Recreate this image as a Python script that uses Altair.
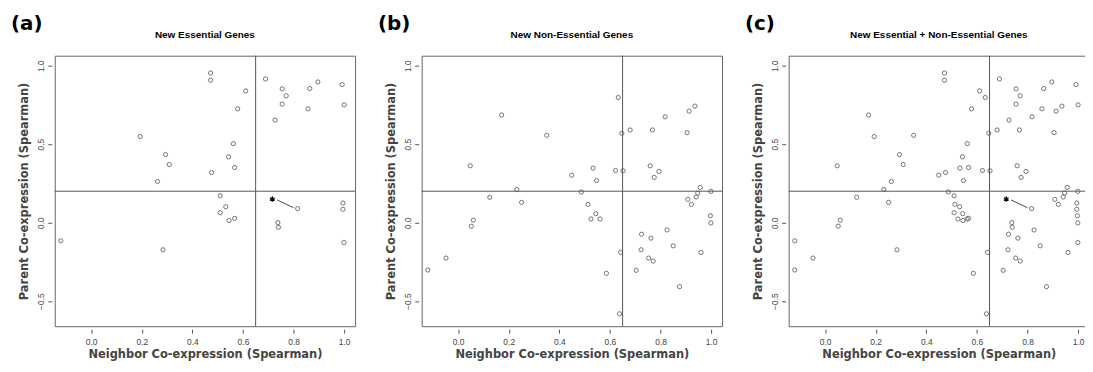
import altair as alt
import pandas as pd

# ---- data ----
ess_x = [-0.12, 0.194, 0.262, 0.294, 0.309, 0.284, 0.472, 0.472, 0.476, 0.611, 0.579, 0.562,
         0.543, 0.567, 0.510, 0.532, 0.510, 0.545, 0.567, 0.689, 0.755, 0.771, 0.755, 0.727,
         0.864, 0.896, 0.857, 0.992, 1.0, 0.816, 0.738, 0.740, 0.995, 0.995, 0.999]
ess_y = [-0.116, 0.548, 0.262, 0.433, 0.370, -0.173, 0.953, 0.907, 0.319, 0.839, 0.725, 0.503,
         0.419, 0.351, 0.171, 0.101, 0.063, 0.013, 0.027, 0.915, 0.852, 0.808, 0.755, 0.653,
         0.854, 0.896, 0.725, 0.879, 0.750, 0.089, 0.0, -0.03, 0.125, 0.085, -0.127]

non_x = [-0.120, -0.048, 0.048, 0.052, 0.060, 0.125, 0.172, 0.232, 0.251, 0.350, 0.449, 0.487,
         0.513, 0.533, 0.547, 0.544, 0.525, 0.561, 0.586, 0.622, 0.633, 0.647, 0.652, 0.642,
         0.638, 0.680, 0.759, 0.768, 0.775, 0.794, 0.818, 0.725, 0.762, 0.723, 0.753, 0.771,
         0.704, 0.826, 0.850, 0.875, 0.905, 0.913, 0.936, 0.908, 0.922, 0.941, 0.947, 0.957,
         0.999, 0.960, 0.997, 0.999]
non_y = [-0.302, -0.226, 0.362, -0.023, 0.015, 0.161, 0.685, 0.211, 0.129, 0.556, 0.302, 0.195,
         0.116, 0.347, 0.268, 0.057, 0.023, 0.023, -0.323, 0.332, 0.797, 0.569, 0.330, -0.190,
         -0.581, 0.590, 0.362, 0.590, 0.288, 0.326, 0.674, -0.074, -0.099, -0.173, -0.226, -0.245,
         -0.304, -0.047, -0.148, -0.408, 0.573, 0.710, 0.742, 0.148, 0.116, 0.163, 0.188, 0.224,
         0.199, -0.190, 0.044, -0.002]

star_x = [0.716]
star_y = [0.150]
link_x = [0.735]
link_y = [0.144]
link_x2 = [0.800]
link_y2 = [0.095]

x_cut = 0.65
y_cut = 0.2

W, H = 302, 272
X_MIN, X_MAX = -0.144, 1.043

panels = [
    ("(a)", "New Essential Genes", ess_x, ess_y, True),
    ("(b)", "New Non-Essential Genes", non_x, non_y, False),
    ("(c)", "New Essential + Non-Essential Genes", ess_x + non_x, ess_y + non_y, True),
]

GRAY = "#555555"

xscale = alt.Scale(domain=[X_MIN, X_MAX], nice=False, zero=False)
yscale = alt.Scale(domain=[-0.66, 1.063], nice=False, zero=False)

xaxis = alt.Axis(
    title="Neighbor Co-expression (Spearman)", values=[0, 0.2, 0.4, 0.6, 0.8, 1.0],
    format=".1f", domain=False, grid=False, offset=3, tickSize=4, tickColor=GRAY,
    labelFont="Liberation Sans", labelFontSize=8.5, labelColor="#444444", labelPadding=4,
    titleFont="DejaVu Sans", titleFontWeight="bold", titleFontSize=11.5, titleColor="#444444",
    titleX=W / 2, titleY=25, titleBaseline="middle", titleAlign="center",
)
yaxis = alt.Axis(
    title="Parent Co-expression (Spearman)", values=[-0.5, 0.0, 0.5, 1.0],
    format=".1f", domain=False, grid=False, offset=3, tickSize=4, tickColor=GRAY,
    labelFont="Liberation Sans", labelFontSize=8.5, labelColor="#444444", labelPadding=2,
    labelAngle=-90, labelAlign="center", labelBaseline="bottom",
    titleFont="DejaVu Sans", titleFontWeight="bold", titleFontSize=11.5, titleColor="#444444",
    titleX=-27, titleY=H / 2, titleAngle=-90, titleBaseline="middle", titleAlign="center",
)


def panel(tag, title, xs, ys, with_star):
    df = pd.DataFrame({"x": xs, "y": ys})
    pts = alt.Chart(df).mark_point(
        shape="circle", filled=False, size=18, stroke=GRAY, strokeWidth=0.8, opacity=1
    ).encode(x=alt.X("x:Q", scale=xscale, axis=xaxis), y=alt.Y("y:Q", scale=yscale, axis=yaxis))
    vline = alt.Chart(pd.DataFrame({"v": [x_cut]})).mark_rule(color=GRAY, strokeWidth=1).encode(
        x=alt.X("v:Q", scale=xscale))
    hline = alt.Chart(pd.DataFrame({"v": [y_cut]})).mark_rule(color=GRAY, strokeWidth=1).encode(
        y=alt.Y("v:Q", scale=yscale))
    tag_txt = alt.Chart().mark_text(
        text=tag, font="DejaVu Sans", fontWeight="bold", fontSize=20, align="left",
        baseline="middle", color="black"
    ).encode(x=alt.value(-44), y=alt.value(-32))
    ttl = alt.Chart().mark_text(
        text=title, font="Liberation Sans", fontWeight="bold", fontSize=10, align="center",
        baseline="middle", color="black"
    ).encode(x=alt.value(W / 2), y=alt.value(-21))
    layers = [vline, hline, pts]
    if with_star:
        link = alt.Chart(pd.DataFrame({"x": link_x, "y": link_y, "x2": link_x2, "y2": link_y2})).mark_rule(
            color="#333333", strokeWidth=0.9).encode(
            x=alt.X("x:Q", scale=xscale), y=alt.Y("y:Q", scale=yscale), x2="x2:Q", y2="y2:Q")
        star = alt.Chart(pd.DataFrame({"x": star_x, "y": star_y})).mark_point(
            shape="M0,-1L0,1M-0.87,-0.5L0.87,0.5M-0.87,0.5L0.87,-0.5", filled=False,
            size=30, stroke="black", strokeWidth=1.3, opacity=1
        ).encode(x=alt.X("x:Q", scale=xscale), y=alt.Y("y:Q", scale=yscale))
        layers += [link, star]
    layers += [tag_txt, ttl]
    return alt.layer(*layers).properties(width=W, height=H)


# the right-most panel is cut by the picture edge, as in the reference
chart = alt.hconcat(*[panel(*p) for p in panels], spacing=21).configure_view(
    stroke="#666666", strokeWidth=1
).properties(padding={"left": 2, "top": 4, "right": -5, "bottom": 0}, background="white")

chart.save("out.html", embed_options={"renderer": "svg", "actions": False})
